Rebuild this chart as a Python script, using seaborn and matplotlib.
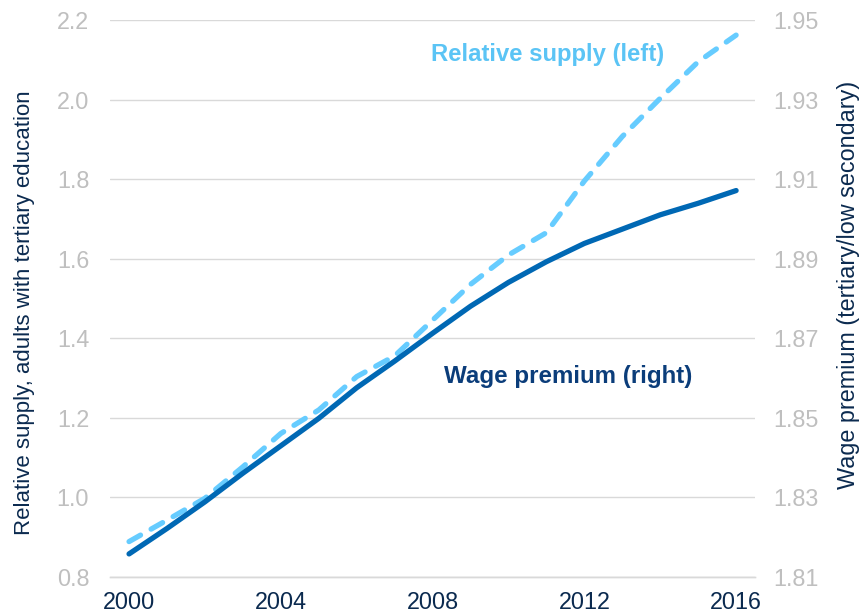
import matplotlib
matplotlib.use("Agg")
import matplotlib.pyplot as plt
import seaborn as sns
import pandas as pd
import numpy as np

# data
years = list(range(2000, 2017))
relative_supply = [0.888, 0.942, 0.997, 1.076, 1.160, 1.219, 1.303, 1.355, 1.445,
                   1.535, 1.609, 1.665, 1.795, 1.907, 2.003, 2.095, 2.162]
wage_premium = [1.8157, 1.8221, 1.8288, 1.8360, 1.8429, 1.8498, 1.8575, 1.8642, 1.8712,
                1.8780, 1.8840, 1.8892, 1.8938, 1.8974, 1.9010, 1.9039, 1.9071]
left_ticks = [0.8, 1.0, 1.2, 1.4, 1.6, 1.8, 2.0, 2.2]
right_ticks = [1.81, 1.83, 1.85, 1.87, 1.89, 1.91, 1.93, 1.95]
year_labels = ["2000", "2004", "2008", "2012", "2016"]

df = pd.DataFrame({"pos": np.arange(len(years)), "year": years,
                   "supply": relative_supply, "wage": wage_premium})

sns.set_theme(style="white")
plt.rcParams["font.family"] = ["Liberation Sans", "DejaVu Sans"]

light_blue = "#66CCFF"
dark_blue = "#0068B4"
navy = "#0B2A4F"
grey_txt = "#BFBFBF"
grid_col = "#D9D9D9"

fig = plt.figure(figsize=(8.6, 6.16), dpi=100)
ax = fig.add_axes([0.128, 0.064, 0.750, 0.9035])
ax2 = ax.twinx()

sns.lineplot(data=df, x="pos", y="supply", ax=ax, color=light_blue, lw=3.8,
             linestyle=(0, (2.5, 2.3)), dash_capstyle="round")
sns.lineplot(data=df, x="pos", y="wage", ax=ax2, color=dark_blue, lw=3.8,
             solid_capstyle="round")

ax.set_xlim(-0.5, len(years) - 0.5)
ax.set_ylim(0.8, 2.2)
ax2.set_ylim(1.81, 1.95)

ax.set_yticks(left_ticks)
ax.set_yticklabels([f"{v:.1f}" for v in left_ticks])
ax2.set_yticks(right_ticks)
ax2.set_yticklabels([f"{v:.2f}" for v in right_ticks])

# category style axis: ticks between years, labels centred on years
ax.set_xticks(np.arange(-0.5, len(years)))
ax.set_xticklabels([])
ax.set_xticks([years.index(int(y)) for y in year_labels], minor=True)
ax.set_xticklabels(year_labels, minor=True)
ax.tick_params(axis="x", which="major", length=7, width=1, color=grid_col, direction="out")
ax.tick_params(axis="x", which="minor", length=0, pad=10.5, labelsize=16.8, labelcolor=navy)
ax.tick_params(axis="y", length=0, pad=15, labelsize=16.8, labelcolor=grey_txt)
ax2.tick_params(axis="y", length=0, pad=13, labelsize=16.8, labelcolor=grey_txt)

ax.grid(axis="y", color=grid_col, lw=1)
ax.set_axisbelow(True)
for a in (ax, ax2):
    for s in ("top", "left", "right"):
        a.spines[s].set_visible(False)
    a.spines["bottom"].set_color(grid_col)
    a.spines["bottom"].set_linewidth(1)

ax.set_xlabel("")
ax.set_ylabel("Relative supply, adults with tertiary education", fontsize=16, color=navy)
ax2.set_ylabel("Wage premium (tertiary/low secondary)", fontsize=16.8, color=navy)
ax.yaxis.set_label_coords(-0.116, 0.475)
ax2.yaxis.set_label_coords(1.127, 0.524)

ax.text(431 / 860, 1 - 55 / 616, "Relative supply (left)", transform=fig.transFigure,
        fontsize=17.2, fontweight="bold", color="#5BC4F5", va="center", ha="left")
ax.text(444 / 860, 1 - 377 / 616, "Wage premium (right)", transform=fig.transFigure,
        fontsize=17.4, fontweight="bold", color="#0B3D7A", va="center", ha="left")

fig.savefig("out.png", dpi=100)
